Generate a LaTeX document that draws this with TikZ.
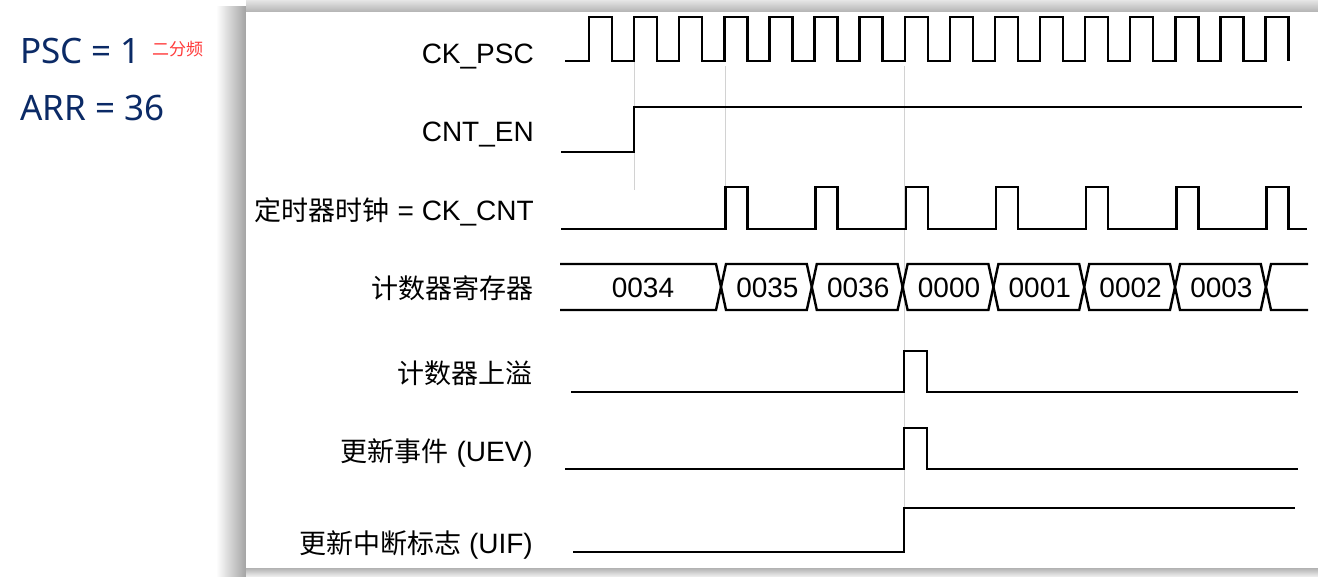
\documentclass[tikz,border=0pt]{standalone}
\usepackage{fontspec}
\setmainfont{Liberation Sans}
\newfontfamily\cjkfam{Noto Sans CJK SC}
\newfontfamily\notofam{Noto Sans}
\newcommand\zhtext[1]{{\cjkfam\fontsize{27}{32}\selectfont #1}}
\definecolor{navyt}{HTML}{0B2A66}
\definecolor{redt}{HTML}{FF3B3B}
\definecolor{guidec}{HTML}{D2D2D2}
\begin{document}
\begin{tikzpicture}[x=1pt,y=-1pt,
  sig/.style={line width=2.4pt, black, line join=miter},
  guideline/.style={guidec, line width=1pt},
  lbl/.style={inner sep=0pt, font=\fontsize{28}{32}\selectfont},
  val/.style={inner sep=0pt, font=\fontsize{28}{32}\selectfont},
  big/.style={inner sep=0pt, text=navyt, font=\notofam\fontsize{35}{40}\selectfont}]
\useasboundingbox (0,0) rectangle (1318,576);
\fill[white] (0,0) rectangle (1318,576);
% panel shadow
\shade[left color=white, right color=black!36] (216,6) rectangle (246,576);
\shade[top color=black!10, bottom color=black!30] (246,0) rectangle (1318,12);
\shade[top color=black!30, bottom color=black!8] (246,568) rectangle (1318,576);
\fill[white] (246,12) rectangle (1318,568);

% left notes
\node[big, anchor=base west] (psc) at (20,63) {PSC = 1};
\node[big, anchor=base west] (arr) at (20,120) {ARR = 36};
\node[inner sep=0pt, anchor=west, text=redt, font=\cjkfam\fontsize{17}{20}\selectfont] (div) at (152,49) {二分频};

% guide lines
\draw[guideline] (634,62) -- (634,190);
\draw[guideline] (725,66) -- (725,187);
\draw[guideline] (904,66) -- (904,508);

% labels
\node[lbl, anchor=base east] (lpsc) at (534,63) {CK\_PSC};
\node[lbl, anchor=base east] (len) at (534,141) {CNT\_EN};
\node[lbl, anchor=east] (lcnt) at (534,212) {\zhtext{定时器时钟} = CK\_CNT};
\node[lbl, anchor=east] (lreg) at (534,288) {\zhtext{计数器寄存器}};
\node[lbl, anchor=east] (lovf) at (533,373) {\zhtext{计数器上溢}};
\node[lbl, anchor=east] (luev) at (533,453) {\zhtext{更新事件} (UEV)};
\node[lbl, anchor=east] (luif) at (533,545) {\zhtext{更新中断标志} (UIF)};

% CK_PSC
\draw[sig] (565,61) \foreach \k in {0,...,15} { -- ({589+45.1*\k},61) -- ({589+45.1*\k},17) -- ({612+45.1*\k},17) -- ({612+45.1*\k},61) };
% CNT_EN
\draw[sig] (561,152) -- (634,152) -- (634,107) -- (1302,107);
% CK_CNT
\draw[sig] (561,229) \foreach \j in {0,...,6} { -- ({725.3+90.2*\j},229) -- ++(0,-42) -- ++(22,0) -- ++(0,42) } -- (1307,229);

% counter register
\draw[sig] (560,264) -- (716,264) -- (721,287) -- (716,310) -- (560,310);
\node[val] (v34) at (643,288) {0034};
\foreach \j/\v in {0/0035,1/0036,2/0000,3/0001,4/0002,5/0003} {
  \pgfmathsetmacro\ca{721+90.8*\j}
  \pgfmathsetmacro\cb{721+90.8*(\j+1)}
  \draw[sig] (\ca,287) -- ({\ca+5},264) -- ({\cb-5},264) -- (\cb,287) -- ({\cb-5},310) -- ({\ca+5},310) -- cycle;
  \node[val] (v\j) at ({(\ca+\cb)/2+1},288) {\v};
}
\draw[sig] (1308,264) -- (1271,264) -- (1266,287) -- (1271,310) -- (1308,310);

% overflow
\draw[sig] (571,392) -- (904,392) -- (904,351) -- (927,351) -- (927,392) -- (1298,392);
% UEV
\draw[sig] (565,469) -- (904,469) -- (904,428) -- (927,428) -- (927,469) -- (1298,469);
% UIF
\draw[sig] (573,552) -- (904,552) -- (904,508) -- (1295,508);
\end{tikzpicture}
\end{document}
